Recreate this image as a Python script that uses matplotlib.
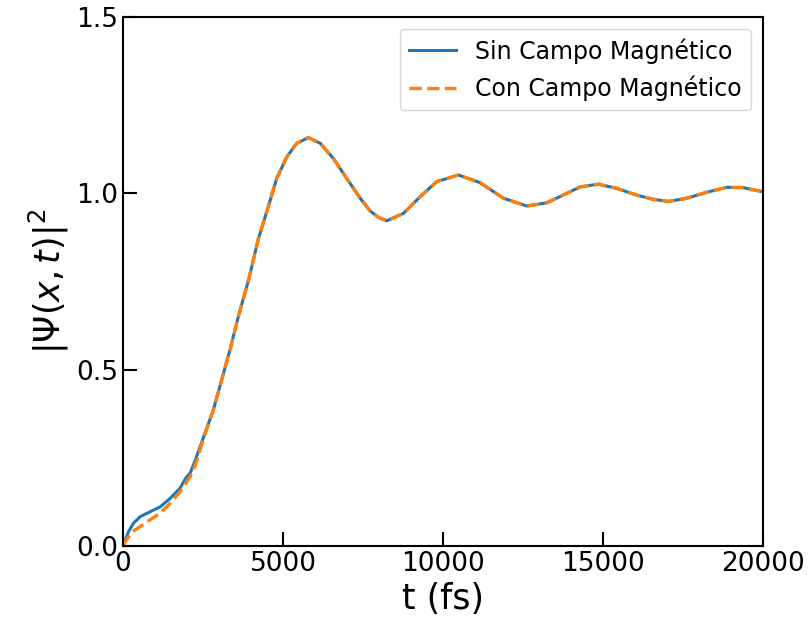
import matplotlib.pyplot as plt

# Values (time in fs)
t_fs = [0, 60, 170, 320, 530, 840, 1160, 1470, 1780, 1940, 2100, 2250, 2560,
        2820, 3080, 3340, 3600, 3920, 4230, 4490, 4800, 5120, 5430, 5790, 6160,
        6570, 6990, 7410, 7720, 7980, 8240, 8760, 9280, 9800, 10480, 11160,
        11890, 12620, 13240, 13870, 14280, 14850, 15430, 16050, 16570, 17040,
        17620, 18240, 18870, 19390, 19910, 20000]

psi_sin = [0.0, 0.015, 0.041, 0.064, 0.083, 0.097, 0.111, 0.135, 0.164, 0.190,
           0.208, 0.242, 0.320, 0.386, 0.471, 0.556, 0.650, 0.754, 0.872, 0.948,
           1.042, 1.104, 1.142, 1.158, 1.142, 1.099, 1.042, 0.986, 0.950, 0.932,
           0.922, 0.943, 0.990, 1.033, 1.052, 1.030, 0.986, 0.964, 0.973, 1.000,
           1.018, 1.026, 1.014, 0.995, 0.983, 0.977, 0.986, 1.003, 1.017, 1.016,
           1.006, 1.004]

psi_con = [0.0, 0.012, 0.026, 0.042, 0.055, 0.074, 0.093, 0.121, 0.154, 0.176,
           0.198, 0.228, 0.318, 0.386, 0.471, 0.556, 0.650, 0.754, 0.872, 0.948,
           1.042, 1.104, 1.142, 1.158, 1.142, 1.099, 1.042, 0.986, 0.950, 0.932,
           0.922, 0.943, 0.990, 1.033, 1.052, 1.030, 0.986, 0.964, 0.973, 1.000,
           1.018, 1.026, 1.014, 0.995, 0.983, 0.977, 0.986, 1.003, 1.017, 1.016,
           1.006, 1.004]

fig = plt.figure(figsize=(8.1, 6.29), dpi=100)
ax = fig.add_axes([0.152, 0.132, 0.790, 0.841])

ax.plot(t_fs, psi_sin, color='#1f77b4', linewidth=2.2, label='Sin Campo Magnético')
ax.plot(t_fs, psi_con, color='#ff7f0e', linewidth=2.4, linestyle='--', label='Con Campo Magnético')

ax.set_xlim(0, 20000)
ax.set_ylim(0, 1.5)
ax.set_xticks([0, 5000, 10000, 15000, 20000])
ax.set_yticks([0.0, 0.5, 1.0, 1.5])
ax.tick_params(direction='in', length=10, width=1.5, labelsize=19)
for s in ax.spines.values():
    s.set_linewidth(1.5)

ax.set_xlabel('t (fs)', fontsize=25)
ax.set_ylabel(r'$|\Psi(x,t)|^2$', fontsize=25)
ax.legend(loc='upper right', fontsize=17)

fig.savefig('out.png', dpi=100)
